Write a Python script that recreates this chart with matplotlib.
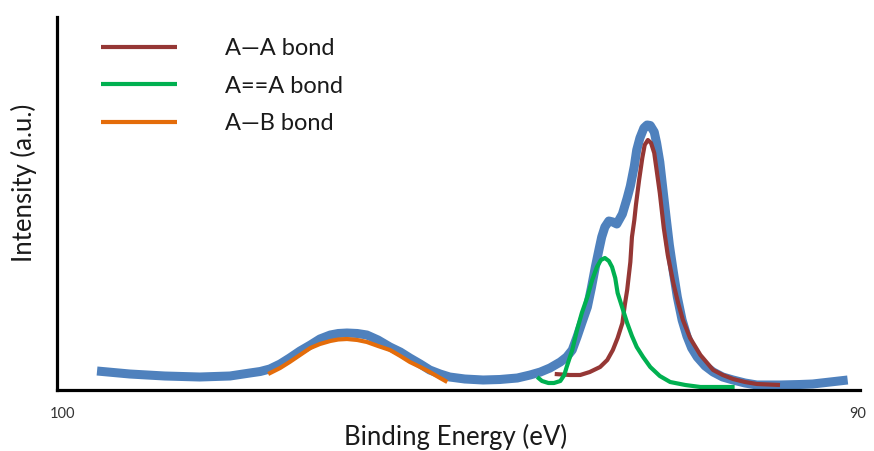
import matplotlib
matplotlib.use("Agg")
import matplotlib.pyplot as plt

plt.rcParams['font.family'] = ['Lato', 'DejaVu Sans']

# envelope (measured spectrum)
env_x = [99.56, 99.15, 98.71, 98.27, 97.89, 97.64, 97.51, 97.39, 97.26, 97.14,
         97.01, 96.88, 96.76, 96.63, 96.53, 96.42, 96.29, 96.17, 96.03, 95.88,
         95.75, 95.63, 95.50, 95.38, 95.25, 95.13, 94.94, 94.71, 94.50, 94.28,
         94.12, 93.99, 93.87, 93.74, 93.66, 93.59, 93.53, 93.47, 93.40, 93.35,
         93.30, 93.25, 93.22, 93.18, 93.13, 93.08, 93.03, 92.96, 92.90, 92.86,
         92.81, 92.78, 92.74, 92.69, 92.65, 92.61, 92.56, 92.53, 92.49, 92.45,
         92.41, 92.37, 92.32, 92.27, 92.21, 92.15, 92.09, 92.02, 91.92, 91.82,
         91.70, 91.57, 91.42, 91.27, 90.98, 90.73, 90.57, 90.35, 90.13]
env_y = [0.19, 0.16, 0.14, 0.13, 0.14, 0.17, 0.185, 0.21, 0.26, 0.32,
         0.39, 0.45, 0.51, 0.55, 0.565, 0.57, 0.565, 0.55, 0.50, 0.43,
         0.38, 0.32, 0.26, 0.20, 0.16, 0.13, 0.11, 0.10, 0.105, 0.12,
         0.15, 0.18, 0.22, 0.28, 0.33, 0.40, 0.53, 0.67, 0.83, 1.02,
         1.23, 1.42, 1.53, 1.63, 1.69, 1.68, 1.66, 1.76, 1.92, 2.04,
         2.24, 2.40, 2.52, 2.62, 2.65, 2.645, 2.58, 2.47, 2.28, 2.00,
         1.72, 1.45, 1.18, 0.93, 0.70, 0.54, 0.42, 0.33, 0.24, 0.18,
         0.13, 0.10, 0.07, 0.05, 0.05, 0.055, 0.06, 0.08, 0.10]

# A-A bond
aa_x = [93.81, 93.62, 93.49, 93.37, 93.24, 93.15, 93.08, 93.02, 92.96, 92.93,
        92.90, 92.86, 92.84, 92.81, 92.79, 92.75, 92.71, 92.68, 92.64, 92.60,
        92.56, 92.53, 92.49, 92.44, 92.39, 92.32, 92.26, 92.20, 92.11, 91.98,
        91.82, 91.70, 91.57, 91.42, 91.27, 90.98]
aa_y = [0.16, 0.15, 0.15, 0.18, 0.23, 0.30, 0.40, 0.52, 0.67, 0.85,
        1.00, 1.28, 1.53, 1.70, 1.85, 2.10, 2.32, 2.45, 2.50, 2.47,
        2.37, 2.20, 1.97, 1.62, 1.35, 1.07, 0.87, 0.70, 0.52, 0.35,
        0.20, 0.15, 0.11, 0.08, 0.06, 0.05]

# A==A bond
dd_x = [94.03, 93.97, 93.89, 93.82, 93.74, 93.69, 93.66, 93.59, 93.53, 93.47,
        93.40, 93.34, 93.28, 93.23, 93.18, 93.13, 93.09, 93.05, 93.02, 92.96,
        92.90, 92.84, 92.78, 92.70, 92.61, 92.49, 92.36, 92.17, 91.98, 91.55]
dd_y = [0.13, 0.09, 0.07, 0.07, 0.09, 0.15, 0.23, 0.40, 0.60, 0.77,
        0.93, 1.10, 1.23, 1.30, 1.32, 1.29, 1.23, 1.12, 0.97, 0.82,
        0.67, 0.54, 0.43, 0.33, 0.23, 0.14, 0.08, 0.05, 0.03, 0.03]

# A-B bond
ab_x = [97.41, 97.26, 97.14, 97.01, 96.88, 96.76, 96.63, 96.53, 96.42, 96.29,
        96.17, 96.03, 95.88, 95.75, 95.63, 95.50, 95.38, 95.25, 95.16]
ab_y = [0.16, 0.22, 0.28, 0.35, 0.42, 0.46, 0.49, 0.505, 0.51, 0.50,
        0.48, 0.44, 0.40, 0.34, 0.28, 0.23, 0.18, 0.12, 0.08]

fig = plt.figure(figsize=(8.74, 4.51), dpi=100)
ax = fig.add_axes([57/874, 61/451, 803/874, 373/451])

kw = dict(solid_joinstyle='round', solid_capstyle='butt')
ax.plot(env_x, env_y, color='#4F81BD', lw=6.5, **kw)
l1, = ax.plot(aa_x, aa_y, color='#953735', lw=3, label='A\u2014A bond', **kw)
l2, = ax.plot(dd_x, dd_y, color='#00B050', lw=3, label='A==A bond', **kw)
l3, = ax.plot(ab_x, ab_y, color='#E46C0A', lw=3, label='A\u2014B bond', **kw)

ax.set_xlim(100.063, 89.975)
ax.set_ylim(0, 3.73)

for s in ['top', 'right']:
    ax.spines[s].set_visible(False)
for s in ['left', 'bottom']:
    ax.spines[s].set_linewidth(2.3)

ax.set_yticks([])
ax.set_xticks([100, 90])
ax.set_xticklabels(['100', '90'], fontsize=10.5, color='#333333')
ax.tick_params(axis='x', length=0, pad=12)

ax.set_xlabel('Binding Energy (eV)', fontsize=18.5, color='#1a1a1a')
ax.xaxis.set_label_coords(0.4963, -0.09)
ax.set_ylabel('Intensity (a.u.)', fontsize=18.5, color='#1a1a1a')
ax.yaxis.set_label_coords(-0.025, 0.555)

leg = ax.legend(handles=[l1, l2, l3], loc='upper left', bbox_to_anchor=(32/803, 0.975),
                frameon=False, fontsize=17, handlelength=3.22, handletextpad=2.05,
                labelspacing=0.7, borderpad=0)
for t in leg.get_texts():
    t.set_color('#1a1a1a')

fig.savefig('out.png', dpi=100)
